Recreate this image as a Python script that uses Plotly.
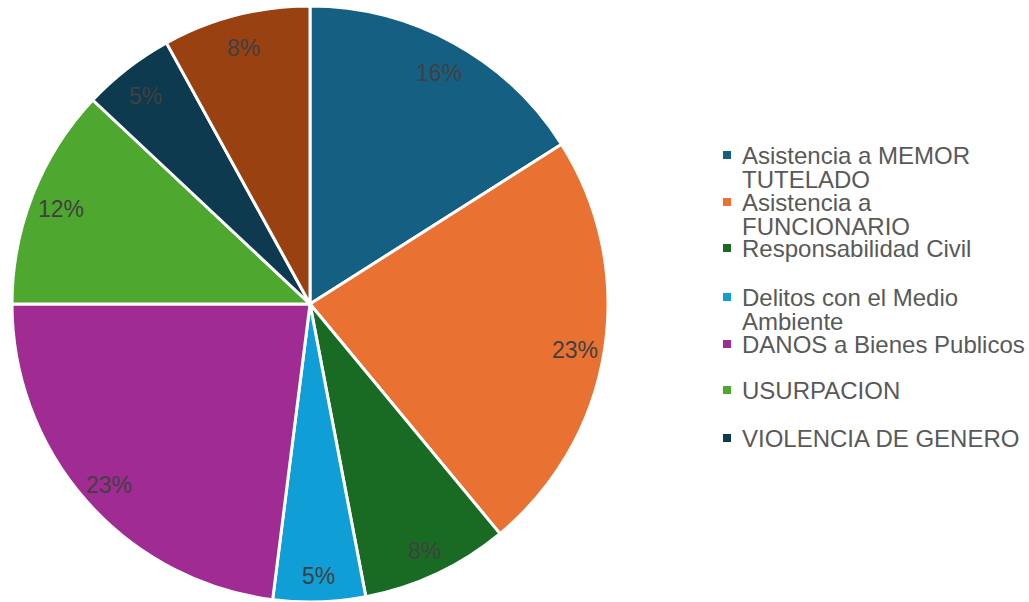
import math
import plotly.graph_objects as go

categories = ["Asistencia a MEMOR TUTELADO", "Asistencia a FUNCIONARIO", "Responsabilidad Civil",
              "Delitos con el Medio Ambiente", "DANOS a Bienes Publicos", "USURPACION",
              "VIOLENCIA DE GENERO", "Otros"]
values = [16, 23, 8, 5, 23, 12, 5, 8]
colors = ["#156082", "#E97132", "#196B24", "#0F9ED5", "#A02B93", "#4EA72E", "#0D3A4E", "#994111"]
legend_lines = [["Asistencia a MEMOR", "TUTELADO"], ["Asistencia a", "FUNCIONARIO"],
                ["Responsabilidad Civil"], ["Delitos con el Medio", "Ambiente"],
                ["DANOS a Bienes Publicos"], ["USURPACION"], ["VIOLENCIA DE GENERO"]]

W, H = 1029, 602
cx, cy, R = 310.0, 304.0, 298.0

fig = go.Figure(go.Pie(
    labels=categories, values=values, sort=False, direction="clockwise", rotation=0,
    marker=dict(colors=colors, line=dict(color="white", width=3)),
    textinfo="none", hoverinfo="label+percent", showlegend=False,
    domain=dict(x=[(cx - R) / W, (cx + R) / W],
                y=[max(0.0, (H - cy - R) / H), min(1.0, (H - cy + R) / H)]),
))

# percentage labels positioned from the data
total = sum(values)
cum = 0
for v in values:
    mid = (cum + v / 2) / total * 2 * math.pi
    cum += v
    r = 0.9 * R
    px = cx + r * math.sin(mid)
    py = cy + 4 - r * math.cos(mid)
    fig.add_annotation(x=px / W, y=1 - py / H, xref="paper", yref="paper",
                       text=f"{round(v / total * 100)}%", showarrow=False,
                       font=dict(family="Liberation Sans, Arial", size=23, color="#404040"),
                       xanchor="center", yanchor="middle")

# manual legend (Excel-style fixed spacing)
item_y = [155, 202, 248, 297, 344, 390, 438]
for i, lines in enumerate(legend_lines):
    y0 = item_y[i]
    fig.add_shape(type="rect", xref="paper", yref="paper",
                  x0=723 / W, x1=731 / W, y0=1 - (y0 - 4) / H, y1=1 - (y0 + 4) / H,
                  fillcolor=colors[i], line=dict(width=0))
    for j, t in enumerate(lines):
        fig.add_annotation(x=740 / W, y=1 - (y0 + 25 * j) / H, xref="paper", yref="paper",
                           text=t, showarrow=False, xanchor="left", yanchor="middle",
                           font=dict(family="Liberation Sans, Arial", size=24, color="#595959"))

fig.update_layout(width=W, height=H, margin=dict(l=0, r=0, t=0, b=0),
                  paper_bgcolor="white", plot_bgcolor="white", showlegend=False)
fig.write_html("out.html", config={"displayModeBar": False},
               post_script="document.body.style.margin='0';")
